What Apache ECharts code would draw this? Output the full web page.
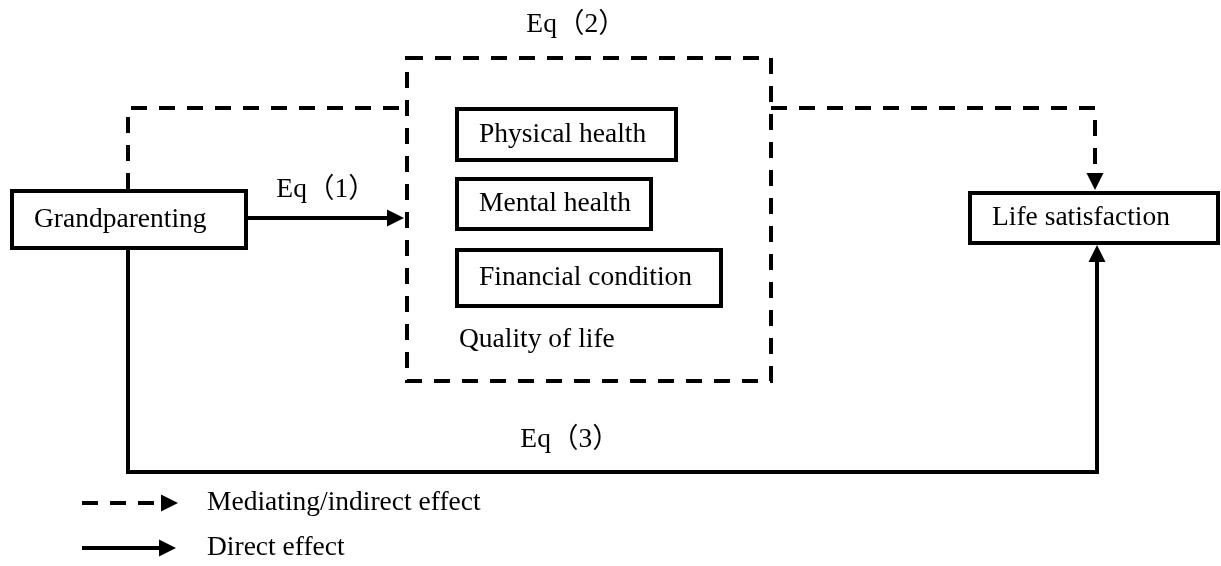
<!DOCTYPE html>
<html>
<head>
<meta charset="utf-8">
<script src="https://cdn.jsdelivr.net/npm/echarts@6/dist/echarts.min.js"></script>
<style>
  html, body { margin: 0; padding: 0; background: #fff; }
  #chart { width: 1221px; height: 566px; }
</style>
</head>
<body>
<div id="chart"></div>
<script>
// diagram content
const nodeNames = ['Grandparenting', 'Life satisfaction', 'Physical health', 'Mental health', 'Financial condition']
const nodeBoxes = [[12, 191, 246, 248], [970, 193, 1218, 243], [457, 109, 676, 160], [457, 179, 651, 229], [457, 250, 721, 306]]
const groupName = 'Quality of life'
const groupBox = [407, 58, 771, 381]
const groupLabelPos = [459, 340]
const eqLabels = ['Eq（1）', 'Eq（2）', 'Eq（3）']
const eqLabelPos = [[326, 190], [576, 25], [570, 440]]
// mediating paths, the first has no arrow head
const mediatingLinks = [[[128, 189], [128, 108], [407, 108]]]
const mediatingArrows = [[[771, 108], [1095, 108], [1095, 190]]]
const directArrows = [[[246, 218], [404, 218]], [[128, 248], [128, 472], [1097, 472], [1097, 245]]]
const legendNames = ['Mediating/indirect effect', 'Direct effect']
const legendDashed = [[82, 503], [178, 503]]
const legendSolid = [[82, 548], [176, 548]]
const legendTextPos = [[207, 503], [207, 548]]

const FONT = '"Liberation Serif", "Times New Roman", "Noto Sans CJK SC", serif'
const dash = [16, 12]
const headSize = 17
const textPad = 22

const chart = echarts.init(document.getElementById('chart'))

function textItem(text, p, align) {
  return {
    type: 'text',
    style: {
      text: text, x: p[0], y: p[1], align: align || 'center', verticalAlign: 'middle',
      fontSize: 27.5, fontFamily: FONT, fill: '#000'
    }
  }
}

// the triangle symbol is centred on the segment end, so pull the end back by half its length;
// the line itself stops there too, under the head
function pullBack(c) {
  const a = c[c.length - 2], b = c[c.length - 1]
  const len = Math.hypot(b[0] - a[0], b[1] - a[1])
  const k = (headSize / 2) / len
  return c.slice(0, -1).concat([[b[0] - (b[0] - a[0]) * k, b[1] - (b[1] - a[1]) * k]])
}

const dashedPaths = mediatingLinks.concat(mediatingArrows.map(pullBack), [pullBack(legendDashed)])
const solidPaths = directArrows.concat([legendSolid]).map(pullBack)
// polyline lines draw no symbols, so the heads sit on the last segment of each arrow path
const heads = mediatingArrows.concat([legendDashed], directArrows, [legendSolid])
  .map(pullBack).map(c => c.slice(-2))

const option = {
  animation: false,
  backgroundColor: '#fff',
  grid: {left: 0, right: 0, top: 0, bottom: 0},
  xAxis: {type: 'value', min: 0, max: 1221, show: false},
  yAxis: {type: 'value', min: 0, max: 566, inverse: true, show: false},
  series: [
    {
      // dashed frame of quality of life
      type: 'custom',
      coordinateSystem: 'cartesian2d',
      clip: false,
      data: [groupBox],
      renderItem(params, api) {
        const a = api.coord([api.value(0), api.value(1)])
        const b = api.coord([api.value(2), api.value(3)])
        const lab = api.coord(groupLabelPos)
        return {
          type: 'group',
          children: [
            {
              type: 'rect',
              shape: {x: a[0], y: a[1], width: b[0] - a[0], height: b[1] - a[1]},
              style: {fill: 'none', stroke: '#000', lineWidth: 4, lineDash: dash}
            },
            textItem(groupName, lab, 'left')
          ]
        }
      }
    },
    {
      type: 'lines',
      coordinateSystem: 'cartesian2d',
      polyline: true,
      lineStyle: {color: '#000', width: 4, type: dash, opacity: 1},
      data: dashedPaths.map(c => ({coords: c}))
    },
    {
      type: 'lines',
      coordinateSystem: 'cartesian2d',
      polyline: true,
      lineStyle: {color: '#000', width: 4, type: 'solid', opacity: 1},
      data: solidPaths.map(c => ({coords: c}))
    },
    {
      // boxes
      type: 'custom',
      coordinateSystem: 'cartesian2d',
      clip: false,
      data: nodeBoxes.map((b, i) => b.concat([i])),
      renderItem(params, api) {
        const a = api.coord([api.value(0), api.value(1)])
        const b = api.coord([api.value(2), api.value(3)])
        const name = nodeNames[api.value(4)]
        return {
          type: 'group',
          children: [
            {
              type: 'rect',
              shape: {x: a[0], y: a[1], width: b[0] - a[0], height: b[1] - a[1]},
              style: {fill: '#fff', stroke: '#000', lineWidth: 4}
            },
            textItem(name, [a[0] + textPad, (a[1] + b[1]) / 2], 'left')
          ]
        }
      }
    },
    {
      // arrow heads only
      type: 'lines',
      coordinateSystem: 'cartesian2d',
      symbol: ['none', 'triangle'],
      symbolSize: headSize,
      lineStyle: {color: '#000', width: 0, opacity: 1},
      data: heads.map(c => ({coords: c}))
    },
    {
      // equation labels and legend text
      type: 'custom',
      coordinateSystem: 'cartesian2d',
      clip: false,
      data: eqLabelPos.map((p, i) => p.concat([i, 0])).concat(legendTextPos.map((p, i) => p.concat([i, 1]))),
      renderItem(params, api) {
        const p = api.coord([api.value(0), api.value(1)])
        const i = api.value(2)
        if (api.value(3) === 0) return textItem(eqLabels[i], p)
        return textItem(legendNames[i], p, 'left')
      }
    }
  ]
}

chart.setOption(option)
</script>
</body>
</html>
